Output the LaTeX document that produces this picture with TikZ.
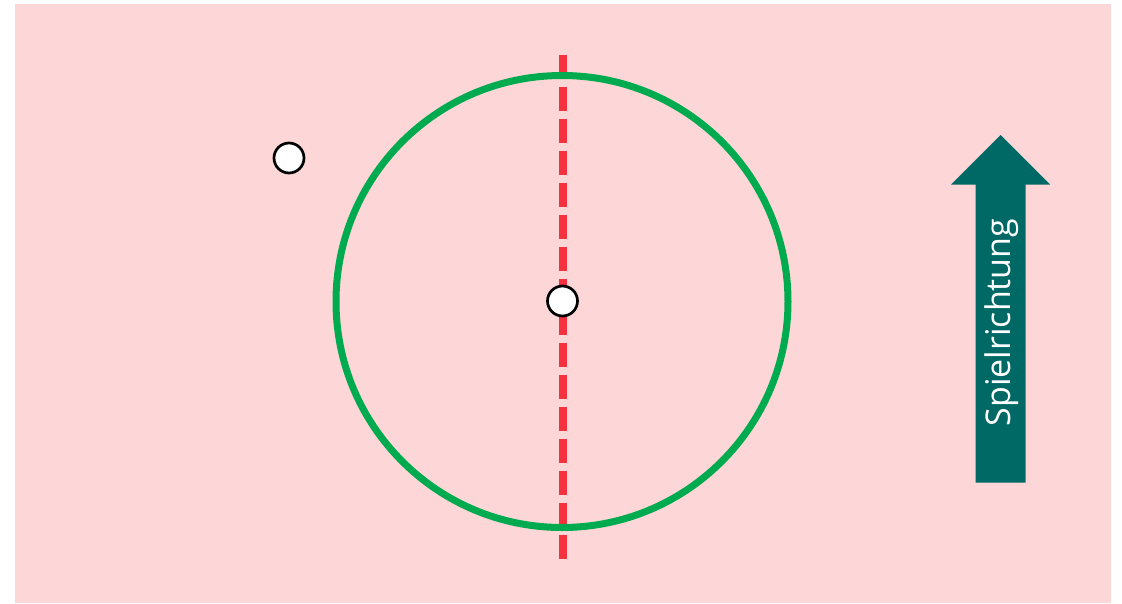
\documentclass[tikz,border=0pt]{standalone}
\usepackage{fontspec}
\setsansfont{Open Sans}
\definecolor{bgpink}{RGB}{253,215,216}
\definecolor{ringgreen}{RGB}{0,170,78}
\definecolor{axisred}{RGB}{245,50,62}
\definecolor{arrowteal}{RGB}{0,105,102}
\begin{document}
\begin{tikzpicture}[x=1pt,y=-1pt,
  ball/.style={circle,draw=black,fill=white,line width=2.7pt,minimum size=30pt,inner sep=0pt},
  ring/.style={draw=ringgreen,line width=7pt},
  axis/.style={draw=axisred,line width=8pt,dash pattern=on 24pt off 8pt},
  dirarrow/.style={fill=arrowteal,draw=none}]
\useasboundingbox (0,0) rectangle (1122,603);
\fill[white] (0,0) rectangle (1122,603);
\fill[bgpink] (15,4) rectangle (1111,603);
% axis
\coordinate (axtop) at (562.5,55);
\coordinate (axbot) at (562.5,559);
\draw[axis] (axtop) -- (axbot);
% ring
\draw[ring] (562,301.5) circle[radius=226];
% balls
\node[ball] (centerball) at (562.5,301) {};
\node[ball] (outerball) at (289,158) {};
% direction arrow
\fill[dirarrow] (1000.5,135) -- (1050,184.5) -- (1025.7,184.5) -- (1025.7,482.7) -- (975.7,482.7) -- (975.7,184.5) -- (951,184.5) -- cycle;
\node[rotate=90,text=white,font=\sffamily\fontsize{34}{36}\selectfont,inner sep=0pt] (dirlabel) at (1002,322.5) {Spielrichtung};
\end{tikzpicture}
\end{document}
